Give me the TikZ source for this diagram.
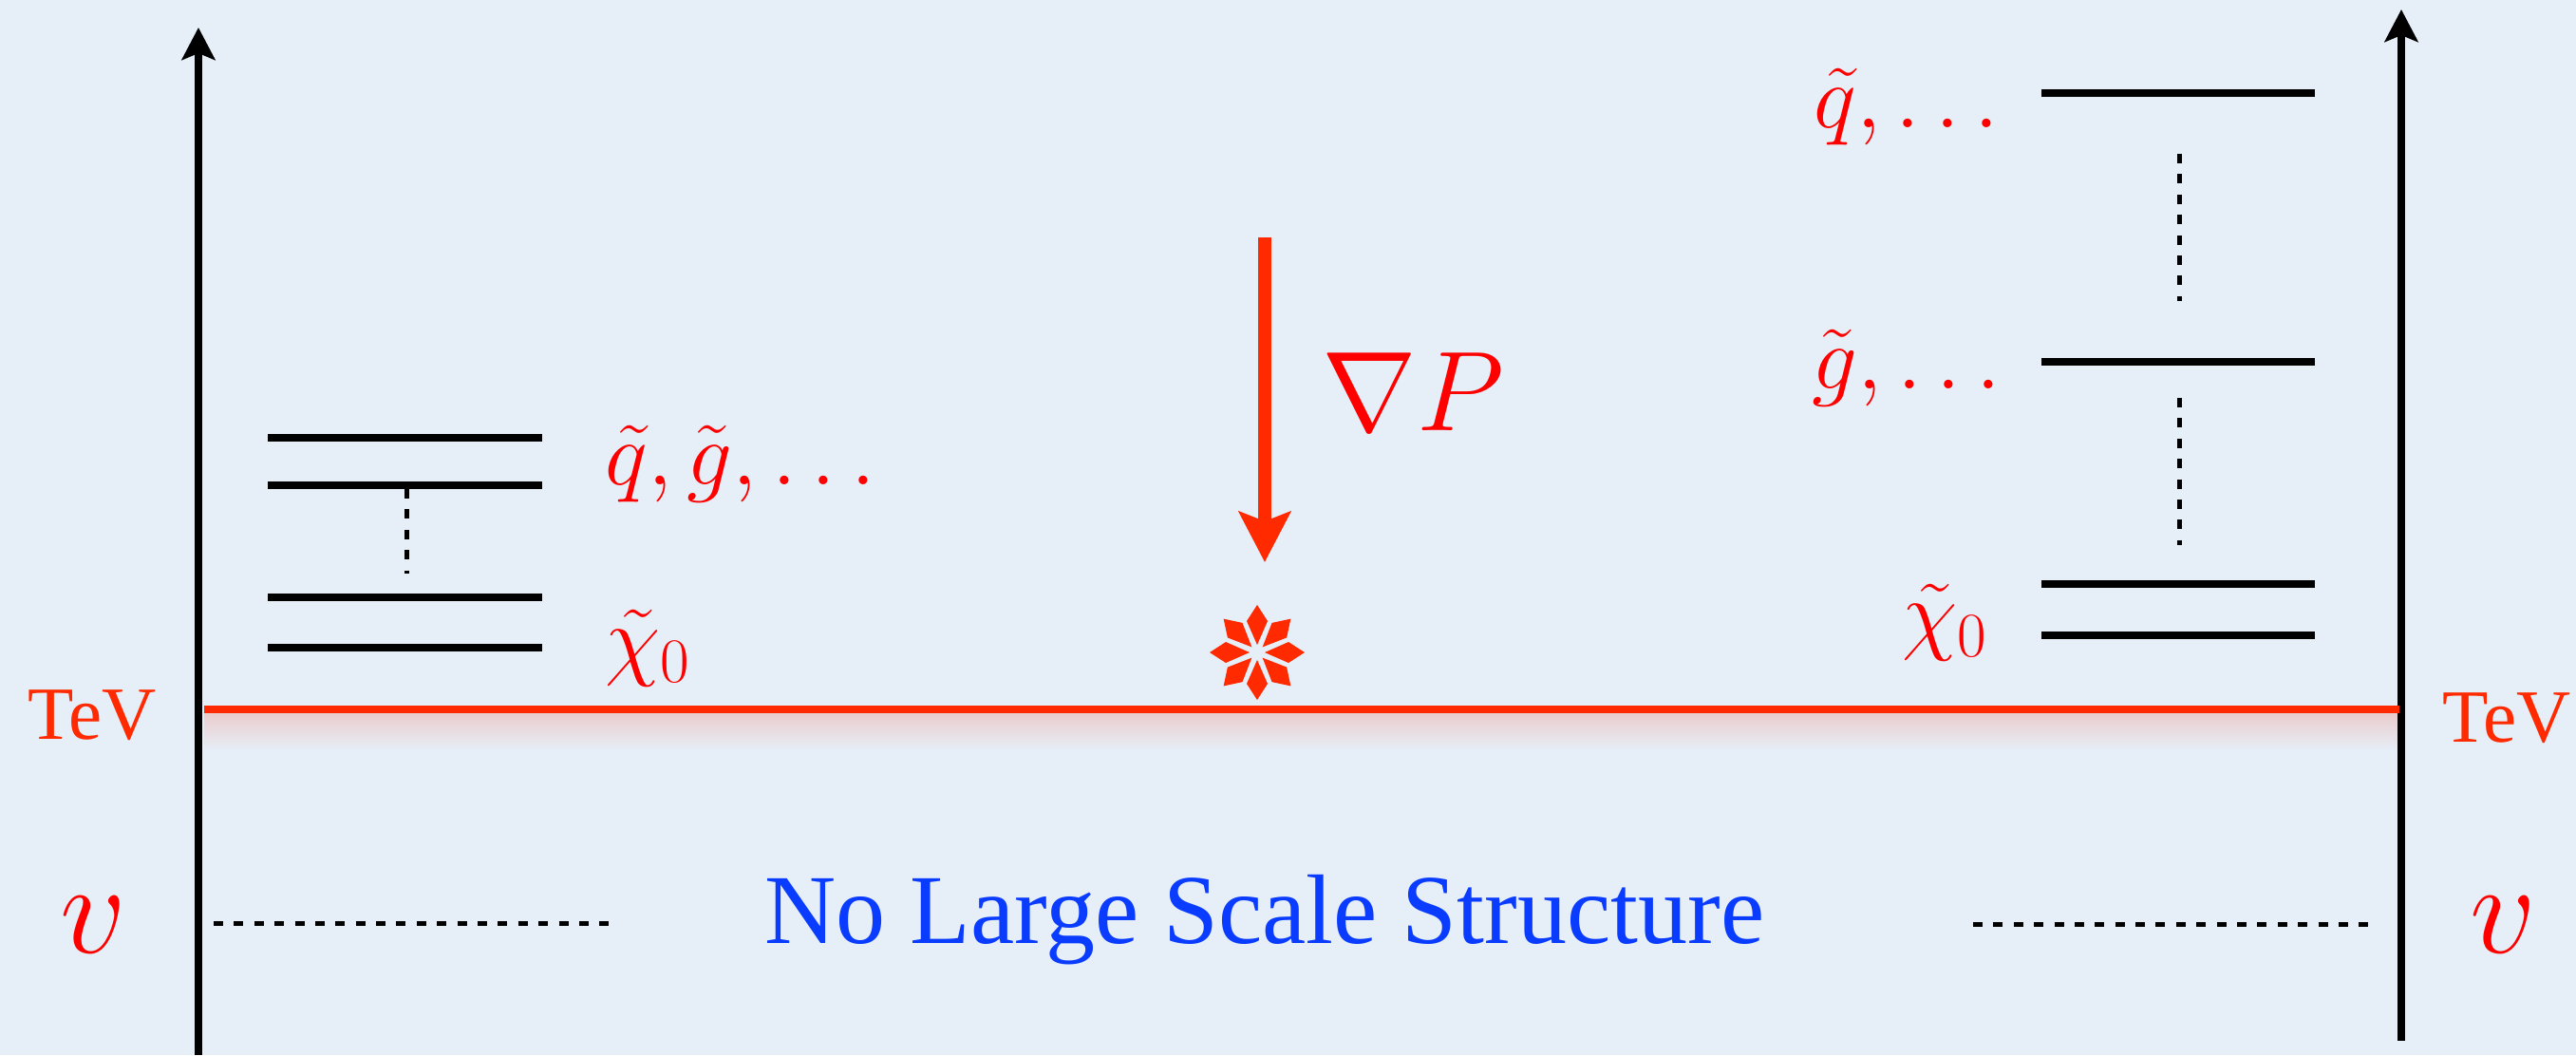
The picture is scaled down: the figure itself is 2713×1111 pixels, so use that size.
\documentclass[tikz,border=0pt]{standalone}
\usepackage{fix-cm}
\usepackage{amsmath,amssymb}
\usepackage{xcolor}
\usepackage{fontspec}
\setmainfont{Liberation Serif}
\usepackage{tikz}
\usetikzlibrary{arrows.meta}
\definecolor{paper}{HTML}{E6EEF7}
\definecolor{hotred}{HTML}{FF2A00}
\definecolor{labelred}{HTML}{FF0000}
\definecolor{titleblue}{HTML}{0A3CFF}

\begin{document}
\begin{tikzpicture}[x=0.01cm, y=-0.01cm,
  level/.style={line width=0.08cm, black},
  axis/.style={-{Stealth[length=0.34cm, width=0.35cm, inset=0.07cm]}, line width=0.08cm, black},
  gap/.style={line width=0.05cm, black, dash pattern=on 0.1cm off 0.1137cm},
  math/.style={text=labelred, inner sep=0pt, anchor=base west, font=\fontsize{27}{27}\selectfont},
  bigmath/.style={text=labelred, inner sep=0pt, anchor=base, font=\fontsize{39}{39}\selectfont},
  scaletext/.style={text=hotred, inner sep=0pt, anchor=base, font=\fontsize{22.5}{22.5}\selectfont}]

  \fill[paper] (0,0) rectangle (2713,1111);
  \useasboundingbox (0,0) rectangle (2713,1111);

  \shade[top color=hotred!17!paper, middle color=hotred!16!paper, bottom color=paper] (215,751) rectangle (2527,790);

  % axes
  \coordinate (lb) at (209,1111);
  \coordinate (lt) at (209,29);
  \coordinate (rb) at (2529,1096);
  \coordinate (rt) at (2529,10);
  \draw[axis] (lb) -- (lt);
  \draw[axis] (rb) -- (rt);

  % left levels
  \coordinate (l1a) at (282,461);  \coordinate (l1b) at (571,461);
  \coordinate (l2a) at (282,511);  \coordinate (l2b) at (571,511);
  \coordinate (l3a) at (282,629);  \coordinate (l3b) at (571,629);
  \coordinate (l4a) at (282,682);  \coordinate (l4b) at (571,682);
  \draw[level] (l1a) -- (l1b);
  \draw[level] (l2a) -- (l2b);
  \draw[level] (l3a) -- (l3b);
  \draw[level] (l4a) -- (l4b);
  \coordinate (ld1) at (428,515);
  \coordinate (ld2) at (428,604);
  \draw[gap] (ld1) -- (ld2);

  % right levels
  \coordinate (r1a) at (2150,98);  \coordinate (r1b) at (2438,98);
  \coordinate (r2a) at (2150,381); \coordinate (r2b) at (2438,381);
  \coordinate (r3a) at (2150,615); \coordinate (r3b) at (2438,615);
  \coordinate (r4a) at (2150,669); \coordinate (r4b) at (2438,669);
  \draw[level] (r1a) -- (r1b);
  \draw[level] (r2a) -- (r2b);
  \draw[level] (r3a) -- (r3b);
  \draw[level] (r4a) -- (r4b);
  \coordinate (rd1) at (2295,162);
  \coordinate (rd2) at (2295,317);
  \coordinate (rd3) at (2295,419);
  \coordinate (rd4) at (2295,574);
  \draw[gap] (rd1) -- (rd2);
  \draw[gap] (rd3) -- (rd4);

  % scale line
  \coordinate (sa) at (215,747);
  \coordinate (sb) at (2527,747);
  \draw[hotred, line width=0.08cm] (sa) -- (sb);

  % gradient arrow and star
  \coordinate (ga) at (1332,250);
  \coordinate (gb) at (1332,592);
  \draw[hotred, line width=0.14cm, -{Stealth[length=0.53cm, width=0.54cm, inset=0.1cm]}] (ga) -- (gb);
  \foreach \ang in {0,45,...,315} {
    \fill[hotred, shift={(1324,687)}, rotate=\ang] (8,0) -- (33,11) -- (50,0) -- (33,-11) -- cycle;
  }

  % labels
  \node[math] (lqg) at (637,510) {$\tilde q,\tilde g,\dots$};
  \node[math] (lchi) at (637,704) {$\tilde\chi_0$};
  \node[math] (rq) at (1910,134) {$\tilde q,\dots$};
  \node[math] (rg) at (1908,409) {$\tilde g,\dots$};
  \node[math] (rchi) at (2003,677) {$\tilde\chi_0$};
  \node[math, font=\fontsize{34}{34}\selectfont] (grad) at (1392,453) {$\nabla P$};
  \node[scaletext] (ltev) at (97,778) {TeV};
  \node[scaletext] (rtev) at (2640,781) {TeV};
  \node[bigmath] (lv) at (98,1003) {$v$};
  \node[bigmath] (rv) at (2636,1003) {$v$};
  \node[text=titleblue, inner sep=0pt, anchor=base, font=\fontsize{29.6}{29.6}\selectfont] (title) at (1332,993) {No Large Scale Structure};

  % lines beside v
  \coordinate (va) at (225,972);
  \coordinate (vb) at (641,972);
  \coordinate (vc) at (2078,973);
  \coordinate (vd) at (2494,973);
  \draw[gap] (va) -- (vb);
  \draw[gap] (vc) -- (vd);

\end{tikzpicture}
\end{document}
